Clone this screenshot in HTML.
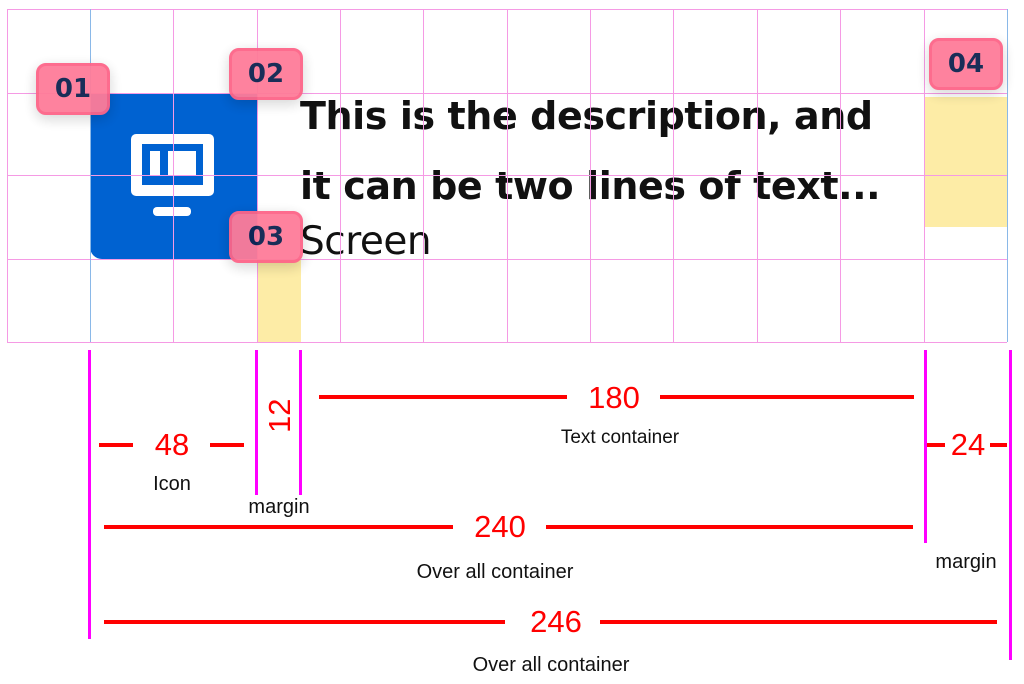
<!DOCTYPE html>
<html><head><meta charset="utf-8"><style>
body{margin:0;width:1024px;height:684px;background:#fff;overflow:hidden;position:relative;font-family:"Liberation Sans",sans-serif}
.a{position:absolute}
.gv{position:absolute;top:9px;height:333px;width:1px;background:#f59ae4}
.gh{position:absolute;left:7px;width:1000px;height:1px;background:#f59ae4}
.b{position:absolute;width:68px;height:46px;background:#fe7c99;border:3px solid #fd6588;border-radius:10px;box-shadow:0 4px 14px rgba(0,0,0,.18);color:#0d2350;font:bold 26px "DejaVu Sans",sans-serif;text-align:center;line-height:46px;opacity:.95}
.m{position:absolute;width:3px;background:#ff00ff}
.r{position:absolute;height:4px;background:#ff0000}
.t{position:absolute;color:#ff0000;font-size:31px;transform:translateX(-50%);white-space:nowrap}
.l{position:absolute;color:#111;font-size:20px;transform:translateX(-50%);white-space:nowrap}
</style></head><body>
<div class="a" style="left:257px;top:260px;width:44px;height:82px;background:#fdeca6"></div>
<div class="a" style="left:925px;top:97px;width:82px;height:130px;background:#fdeca6"></div>
<div class="a" style="left:90px;top:93px;width:167px;height:166px;background:#0062d1;border-radius:0 0 0 12px"></div>
<div class="a" style="left:131px;top:134px;width:83px;height:62px;background:#fff;border-radius:5px"></div>
<div class="a" style="left:142px;top:144px;width:61px;height:41px;background:#0062d1"></div>
<div class="a" style="left:150px;top:151px;width:10px;height:24px;background:#fff"></div>
<div class="a" style="left:168px;top:151px;width:28px;height:24px;background:#fff"></div>
<div class="a" style="left:153px;top:207px;width:38px;height:9px;background:#fff;border-radius:4px"></div>
<div class="a" style="left:300px;top:81px;font:bold 38px 'DejaVu Sans',sans-serif;line-height:70px;color:#111;letter-spacing:-0.4px">This is the description, and<br>it can be two lines of text...</div>
<div class="a" style="left:300px;top:219px;font:39px 'DejaVu Sans',sans-serif;color:#111;letter-spacing:-0.5px">Screen</div>
<div class="gh" style="top:9px"></div><div class="gh" style="top:93px"></div><div class="gh" style="top:175px"></div><div class="gh" style="top:259px"></div><div class="gh" style="top:342px"></div>
<div class="gv" style="left:7px"></div><div class="gv" style="left:90px;background:#8ab8e8"></div><div class="gv" style="left:173px"></div><div class="gv" style="left:257px"></div><div class="gv" style="left:340px"></div><div class="gv" style="left:423px"></div><div class="gv" style="left:507px"></div><div class="gv" style="left:590px"></div><div class="gv" style="left:673px"></div><div class="gv" style="left:757px"></div><div class="gv" style="left:840px"></div><div class="gv" style="left:924px"></div><div class="gv" style="left:1007px;background:#8ab8e8"></div>
<div class="b" style="left:36px;top:63px">01</div>
<div class="b" style="left:229px;top:48px">02</div>
<div class="b" style="left:229px;top:211px">03</div>
<div class="b" style="left:929px;top:38px">04</div>
<div class="m" style="left:88px;top:350px;height:289px"></div>
<div class="m" style="left:255px;top:350px;height:145px"></div>
<div class="m" style="left:299px;top:350px;height:145px"></div>
<div class="m" style="left:924px;top:350px;height:193px"></div>
<div class="m" style="left:1009px;top:350px;height:310px"></div>
<div class="r" style="left:99px;top:443px;width:34px"></div><div class="r" style="left:210px;top:443px;width:34px"></div>
<div class="t" style="left:172px;top:427px">48</div>
<div class="l" style="left:172px;top:473px">Icon</div>
<div class="a" style="left:262px;top:397px;color:#f00;font-size:31px;transform:rotate(-90deg);transform-origin:18px 18px;width:40px">12</div>
<div class="l" style="left:279px;top:496px">margin</div>
<div class="r" style="left:319px;top:395px;width:248px"></div><div class="r" style="left:660px;top:395px;width:254px"></div>
<div class="t" style="left:614px;top:380px">180</div>
<div class="l" style="left:620px;top:427px;font-size:19px">Text container</div>
<div class="r" style="left:927px;top:443px;width:18px"></div><div class="r" style="left:990px;top:443px;width:17px"></div>
<div class="t" style="left:968px;top:427px">24</div>
<div class="l" style="left:966px;top:551px">margin</div>
<div class="r" style="left:104px;top:525px;width:349px"></div><div class="r" style="left:546px;top:525px;width:367px"></div>
<div class="t" style="left:500px;top:509px">240</div>
<div class="l" style="left:495px;top:561px">Over all container</div>
<div class="r" style="left:104px;top:620px;width:401px"></div><div class="r" style="left:600px;top:620px;width:397px"></div>
<div class="t" style="left:556px;top:604px">246</div>
<div class="l" style="left:551px;top:654px">Over all container</div>
</body></html>
